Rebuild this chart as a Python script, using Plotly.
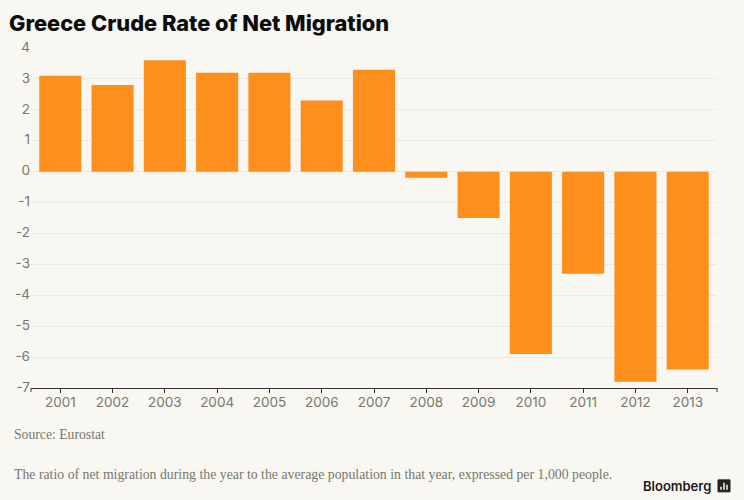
import plotly.graph_objects as go

years = ["2001", "2002", "2003", "2004", "2005", "2006", "2007",
         "2008", "2009", "2010", "2011", "2012", "2013"]
net_migration = [3.1, 2.8, 3.6, 3.2, 3.2, 2.3, 3.3, -0.2, -1.5, -5.9, -3.3, -6.8, -6.4]
y_ticks = [4, 3, 2, 1, 0, -1, -2, -3, -4, -5, -6, -7]

W, H = 744, 500
L, R, T, B = 31, 717, 47.5, 388
BG = "#f8f7f1"
GREY = "#77776f"

# pixel -> paper coords, for the things outside the plot
def px(x):
    return (x - L) / (R - L)

def py(y):
    return (B - y) / (B - T)

fig = go.Figure()
fig.add_trace(go.Bar(x=years, y=net_migration, width=0.805,
                     marker=dict(color="#ff8f1c", line_width=0), hoverinfo="x+y"))

def note(x, y, text, size, color, family, anchor="left", weight="normal"):
    fig.add_annotation(xref="paper", yref="paper", x=px(x), y=py(y), text=text,
                       showarrow=False, xanchor=anchor, yanchor="middle",
                       borderpad=0, borderwidth=0,
                       font=dict(size=size, color=color, family=family, weight=weight))

note(9, 22, "Greece Crude Rate of Net Migration", 21.8, "#0b0b0b", "Inter", weight=800)
note(14, 435, "Source: Eurostat", 13.7, GREY, "Liberation Serif")
note(14, 474.5, "The ratio of net migration during the year to the average population in that year, "
     "expressed per 1,000 people.", 13.8, GREY, "Liberation Serif")
note(711, 486.5, "Bloomberg", 13, "#1a1a1a", "Inter", anchor="right", weight=600)

# end ticks of the x axis
for x_end in (L, R):
    fig.add_shape(type="line", xref="paper", yref="paper", x0=px(x_end), x1=px(x_end),
                  y0=py(B), y1=py(B + 4), line=dict(color="#333333", width=1))

# Bloomberg logo
fig.add_shape(type="rect", xref="paper", yref="paper", x0=px(718), x1=px(730),
              y0=py(480), y1=py(492), fillcolor="#222222", line=dict(color="#222222", width=1))
for bx, top in ((721, 487), (724, 483), (727, 485)):
    fig.add_shape(type="line", xref="paper", yref="paper", x0=px(bx), x1=px(bx),
                  y0=py(top), y1=py(490), line=dict(color=BG, width=1.5))

fig.update_layout(
    width=W, height=H,
    autosize=False,
    margin=dict(l=L, r=W - R, t=T, b=H - B, pad=0),
    paper_bgcolor=BG, plot_bgcolor=BG,
    showlegend=False,
    xaxis=dict(type="category", range=[-0.56, 12.56], ticks="outside", ticklen=4, tickwidth=1,
               tickcolor="#333333", showline=True, linecolor="#333333", linewidth=1,
               showgrid=False, zeroline=False, fixedrange=True, ticklabelstandoff=-2,
               tickfont=dict(size=13.5, color=GREY, family="Inter")),
    yaxis=dict(range=[-7, 4], tickvals=y_ticks, ticktext=[str(v) for v in y_ticks], ticks="",
               showline=False, gridcolor="#ebe9e3", gridwidth=1, zeroline=False, fixedrange=True,
               ticklabelshift=-1,
               tickfont=dict(size=13.5, color=GREY, family="Inter")),
)

# the default page margin would push the chart 8px in
fig.write_html("out.html", config=dict(displayModeBar=False),
               post_script="document.body.style.margin='0';document.body.style.background='%s';" % BG)
